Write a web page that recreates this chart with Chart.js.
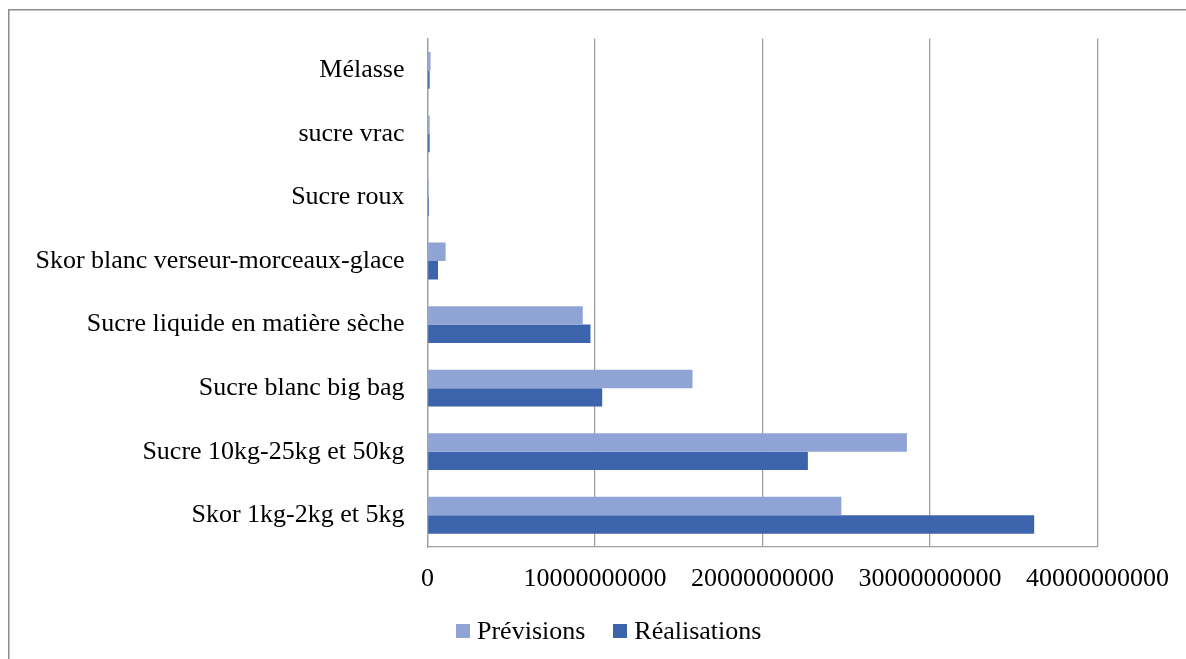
<!DOCTYPE html>
<html lang="fr">
<head>
<meta charset="utf-8">
<title>Prévisions et réalisations par produit</title>
<script src="https://cdn.jsdelivr.net/npm/chart.js@4.4.1/dist/chart.umd.min.js"></script>
<style>
  html, body { margin: 0; padding: 0; background: #ffffff; overflow: hidden; }
  #wrap { position: relative; width: 1186px; height: 659px; overflow: hidden; }
  canvas { position: absolute; left: 0; top: 0; }
  #legend {
    position: absolute; left: 456px; top: 614px; height: 34px;
    display: flex; align-items: center;
    font-family: 'Liberation Serif', 'Times New Roman', serif; font-size: 26px; color: #000;
  }
  #legend .item { display: flex; align-items: center; margin-right: 28px; }
  #legend .swatch { width: 14px; height: 14px; margin-right: 7px; }
</style>
</head>
<body>
<div id="wrap">
  <canvas id="chart" width="1186" height="659"></canvas>
  <div id="legend"></div>
</div>
<script>
// Products, listed from the top of the chart down
const categories = [
  'Mélasse',
  'sucre vrac',
  'Sucre roux',
  'Skor blanc verseur-morceaux-glace',
  'Sucre liquide en matière sèche',
  'Sucre blanc big bag',
  'Sucre 10kg-25kg et 50kg',
  'Skor 1kg-2kg et 5kg'
];

// Forecast values
const previsions = [1.8e8, 1.3e8, 0.7e8, 1.08e9, 9.27e9, 1.582e10, 2.862e10, 2.471e10];

// Actual values
const realisations = [1.3e8, 1.3e8, 0.8e8, 6.3e8, 9.73e9, 1.043e10, 2.271e10, 3.622e10];

// Value axis
const axisMin = 0;
const axisMax = 40000000000;
const axisStep = 10000000000;

const serif = "'Liberation Serif', 'Times New Roman', serif";
const gridColor = '#a0a0a0';

// Outer chart frame: top and left edges of the surrounding box
const framePlugin = {
  id: 'frame',
  beforeDraw(c) {
    const ctx = c.ctx;
    ctx.save();
    ctx.strokeStyle = '#8c8c8c';
    ctx.lineWidth = 1.5;
    ctx.beginPath();
    ctx.moveTo(8.75, c.height);
    ctx.lineTo(8.75, 9.75);
    ctx.lineTo(c.width, 9.75);
    ctx.stroke();
    ctx.restore();
  }
};

const chart = new Chart(document.getElementById('chart'), {
  type: 'bar',
  data: {
    labels: categories,
    datasets: [
      { label: 'Prévisions', data: previsions, backgroundColor: '#8fa3d5', borderWidth: 0 },
      { label: 'Réalisations', data: realisations, backgroundColor: '#3c64ac', borderWidth: 0 }
    ]
  },
  options: {
    indexAxis: 'y',
    responsive: false,
    animation: false,
    maintainAspectRatio: false,
    categoryPercentage: 0.58,
    barPercentage: 1.0,
    layout: { padding: { top: 38, right: 86, bottom: 44, left: 0 } },
    scales: {
      x: {
        min: axisMin,
        max: axisMax,
        ticks: {
          stepSize: axisStep,
          padding: 17,
          color: '#000000',
          font: { family: serif, size: 26 },
          maxRotation: 0,
          callback: v => String(v)
        },
        grid: { color: gridColor, lineWidth: 1.3, drawTicks: false },
        border: { color: gridColor, width: 1.3 },
        afterFit: s => { s.height = 68; }
      },
      y: {
        ticks: {
          padding: 23,
          color: '#000000',
          font: { family: serif, size: 26 }
        },
        grid: { display: false, drawTicks: false },
        border: { color: gridColor, width: 1.3 },
        afterFit: s => { s.width = 427.5; }
      }
    },
    plugins: {
      legend: { display: false },
      tooltip: { enabled: false }
    }
  },
  plugins: [framePlugin]
});

// Legend built from the chart's datasets
const legendEl = document.getElementById('legend');
chart.data.datasets.forEach(ds => {
  const item = document.createElement('div');
  item.className = 'item';
  const sw = document.createElement('span');
  sw.className = 'swatch';
  sw.style.background = ds.backgroundColor;
  const txt = document.createElement('span');
  txt.textContent = ds.label;
  item.appendChild(sw);
  item.appendChild(txt);
  legendEl.appendChild(item);
});
</script>
</body>
</html>
